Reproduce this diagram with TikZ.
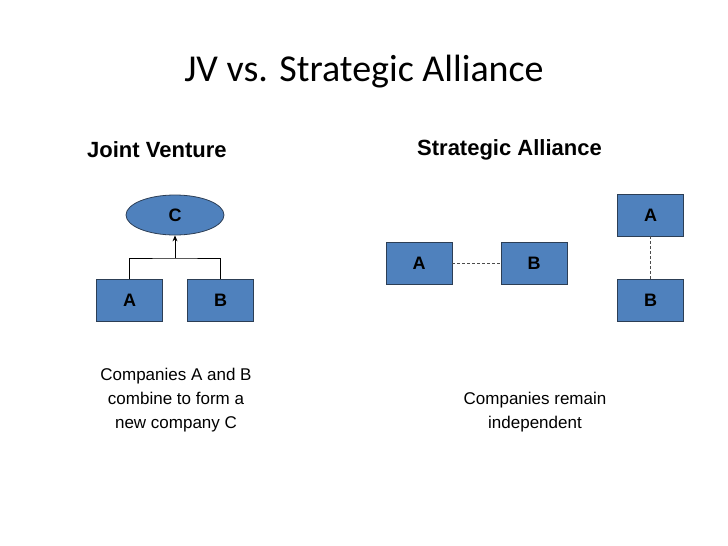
\documentclass[tikz,border=0pt]{standalone}
\usepackage{fontspec}
\setmainfont{Liberation Sans}
\newfontfamily\titlefont{Carlito}
\usetikzlibrary{shapes.geometric,arrows.meta}
\definecolor{boxblue}{HTML}{4F81BD}
\definecolor{boxedge}{HTML}{2C3E55}
\tikzset{
  bx/.style={draw=boxedge,fill=boxblue,line width=0.8pt,minimum width=66pt,minimum height=42pt,inner sep=0pt,font=\fontsize{18}{20}\selectfont\bfseries},
  el/.style={ellipse,draw=boxedge,fill=boxblue,line width=0.8pt,minimum width=98pt,minimum height=40pt,inner sep=0pt,font=\fontsize{18}{20}\selectfont\bfseries},
  hd/.style={font=\fontsize{22}{24}\selectfont\bfseries},
  tx/.style={align=center,font=\fontsize{17}{24}\selectfont},
  ln/.style={line width=0.8pt},
  dl/.style={line width=0.8pt,dash pattern=on 3pt off 2pt,draw=black!70}
}
\begin{document}
\begin{tikzpicture}[x=1pt,y=-1pt]
\useasboundingbox (0,0) rectangle (728,546);
\node[font=\titlefont\fontsize{38}{40}\selectfont] (title) at (364,72) {JV vs. Strategic Alliance};
\node[hd,anchor=west,inner sep=0pt] (jv) at (87,150) {Joint Venture};
\node[hd,anchor=west,inner sep=0pt] (sa) at (417,150) {Strategic Alliance};
\node[el] (C) at (175,215) {C};
\node[bx] (A1) at (129.5,300.5) {A};
\node[bx] (B1) at (220.5,300.5) {B};
\coordinate (m) at (175,258);
\draw[ln] (A1.north) |- (m) -| (B1.north);
\draw[ln,-{Stealth[length=6pt,width=5pt]}] (m) -- (C.south);
\node[bx] (A2) at (419,263.5) {A};
\node[bx] (B2) at (534,263.5) {B};
\draw[dl] (A2.east) -- (B2.east -| B2.west);
\node[bx] (A3) at (650.5,215) {A};
\node[bx] (B3) at (650.5,300.5) {B};
\draw[dl] (A3.south) -- (B3.north);
\node[tx] (t1) at (176,400) {Companies A and B\\combine to form a\\new company C};
\node[tx] (t2) at (535,412) {Companies remain\\independent};
\end{tikzpicture}
\end{document}
